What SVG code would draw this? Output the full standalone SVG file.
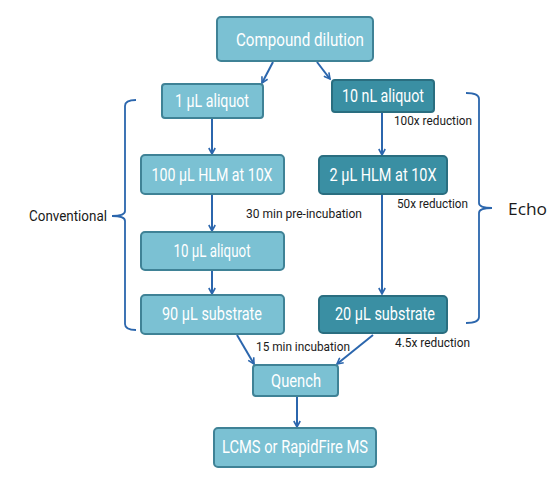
<svg xmlns="http://www.w3.org/2000/svg" width="557" height="478" viewBox="0 0 557 478">
<defs>
<marker id="ah" markerWidth="8" markerHeight="8" refX="7" refY="4" orient="auto" markerUnits="userSpaceOnUse">
<path d="M1,0.8 L7,4 L1,7.2" fill="none" stroke="#2b66ad" stroke-width="1.6"/>
</marker>
<style>
.lt{fill:#7bc1d3;stroke:#3f8296;stroke-width:2}
.dk{fill:#3a8fa3;stroke:#2a6e80;stroke-width:2}
.bt{font-family:Roboto,"Liberation Sans",sans-serif;font-size:17.5px;fill:#ffffff;text-anchor:middle}
.sm{font-family:Roboto,"Liberation Sans",sans-serif;font-size:13.5px;fill:#1a1a1a}
.cn{stroke:#2b66ad;stroke-width:2;fill:none;marker-end:url(#ah)}
.br{stroke:#2b66ad;stroke-width:1.8;fill:none}
</style>
</defs>
<rect width="557" height="478" fill="#ffffff"/>
<g id="connectors">
<line class="cn" x1="273" y1="62" x2="262" y2="83"/>
<line class="cn" x1="317" y1="62" x2="330" y2="79"/>
<line class="cn" x1="212" y1="118" x2="212" y2="154"/>
<line class="cn" x1="212" y1="195" x2="212" y2="231"/>
<line class="cn" x1="212" y1="271" x2="212" y2="294"/>
<line class="cn" x1="382" y1="113" x2="382" y2="155"/>
<line class="cn" x1="382" y1="195" x2="382" y2="294"/>
<line class="cn" x1="237" y1="335" x2="254" y2="364"/>
<line class="cn" x1="373" y1="335" x2="337" y2="364"/>
<line class="cn" x1="297" y1="397" x2="297" y2="427"/>
</g>
<g id="n-compound"><rect class="lt" x="217" y="17" width="156" height="44" rx="4"/><text class="bt" x="300" y="46" textLength="128" lengthAdjust="spacingAndGlyphs">Compound dilution</text></g>
<g id="n-1ul"><rect class="lt" x="162" y="84" width="101" height="34" rx="3"/><text class="bt" x="212" y="107" textLength="74" lengthAdjust="spacingAndGlyphs">1 µL aliquot</text></g>
<g id="n-10nl"><rect class="dk" x="332" y="80" width="102" height="32" rx="3"/><text class="bt" x="383" y="102" textLength="82" lengthAdjust="spacingAndGlyphs">10 nL aliquot</text></g>
<g id="n-100ul"><rect class="lt" x="141" y="155" width="143" height="39" rx="4"/><text class="bt" x="212" y="181" textLength="121" lengthAdjust="spacingAndGlyphs">100 µL HLM at 10X</text></g>
<g id="n-2ul"><rect class="dk" x="319" y="156" width="128" height="38" rx="4"/><text class="bt" x="383" y="181" textLength="107" lengthAdjust="spacingAndGlyphs">2 µL HLM at 10X</text></g>
<g id="n-10ul"><rect class="lt" x="141" y="232" width="143" height="38" rx="4"/><text class="bt" x="212" y="257" textLength="77" lengthAdjust="spacingAndGlyphs">10 µL aliquot</text></g>
<g id="n-90ul"><rect class="lt" x="141" y="295" width="143" height="39" rx="4"/><text class="bt" x="212" y="320" textLength="100" lengthAdjust="spacingAndGlyphs">90 µL substrate</text></g>
<g id="n-20ul"><rect class="dk" x="319" y="296" width="128" height="37" rx="4"/><text class="bt" x="385" y="320" textLength="100" lengthAdjust="spacingAndGlyphs">20 µL substrate</text></g>
<g id="n-quench"><rect class="lt" x="253" y="365" width="85" height="31" rx="3"/><text class="bt" x="296" y="387" textLength="50" lengthAdjust="spacingAndGlyphs">Quench</text></g>
<g id="n-lcms"><rect class="lt" x="214" y="428" width="162" height="39" rx="4"/><text class="bt" x="295" y="453" textLength="146" lengthAdjust="spacingAndGlyphs">LCMS or RapidFire MS</text></g>
<g id="labels">
<text class="sm" x="394" y="125" textLength="78" lengthAdjust="spacingAndGlyphs">100x reduction</text>
<text class="sm" x="397" y="208" textLength="71" lengthAdjust="spacingAndGlyphs">50x reduction</text>
<text class="sm" x="246" y="218" textLength="116" lengthAdjust="spacingAndGlyphs">30 min pre-incubation</text>
<text class="sm" x="395" y="347" textLength="75" lengthAdjust="spacingAndGlyphs">4.5x reduction</text>
<text class="sm" x="256" y="351" textLength="94" lengthAdjust="spacingAndGlyphs">15 min incubation</text>
</g>
<g id="brace-conventional">
<path class="br" d="M136,100 Q125,100 125,106 L125,211 Q125,216 112,216 Q125,216 125,221 L125,324 Q125,330 136,330"/>
<text x="107" y="221" font-family="Roboto,'Liberation Sans',sans-serif" font-size="15" fill="#1a1a1a" text-anchor="end" textLength="78" lengthAdjust="spacingAndGlyphs">Conventional</text>
</g>
<g id="brace-echo">
<path class="br" d="M466,93 Q479,93 479,99 L479,203 Q479,208 492,208 Q479,208 479,213 L479,317 Q479,323 466,323"/>
<text x="508" y="215" font-family="'Open Sans','Liberation Sans',sans-serif" font-size="17" fill="#1a1a1a" textLength="39" lengthAdjust="spacingAndGlyphs">Echo</text>
</g>
</svg>
